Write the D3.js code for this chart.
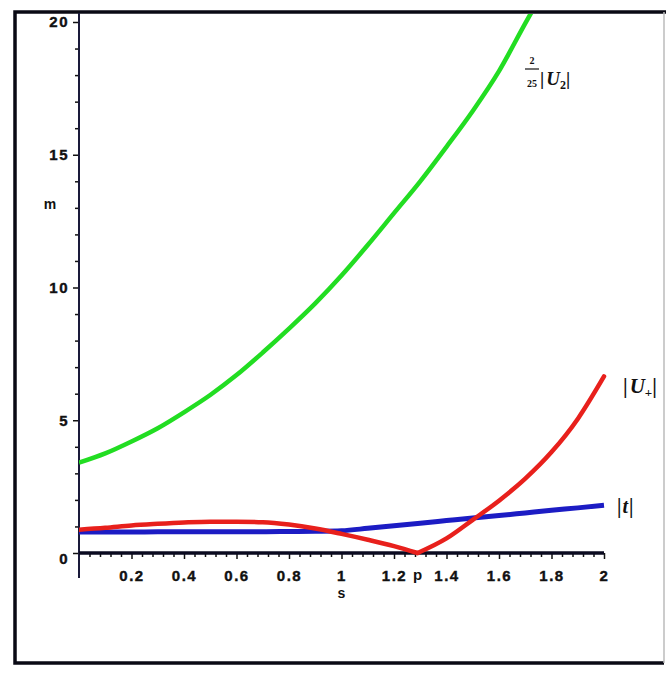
<!DOCTYPE html>
<html>
<head>
<meta charset="utf-8">
<script src="https://cdn.jsdelivr.net/npm/d3@7"></script>
<style>
  body { margin: 0; background: #fff; }
  .tick text { font-family: "Liberation Sans", Arial, sans-serif; font-weight: bold; }
  .lbl { font-family: "Liberation Serif", "Times New Roman", serif; font-weight: bold; fill: #111; }
</style>
</head>
<body>
<svg width="666" height="673"></svg>
<script>
// values, s = 0 .. 2
var sGrid = [0, 0.1, 0.2, 0.3, 0.4, 0.5, 0.6, 0.7, 0.8, 0.9, 1.0,
             1.1, 1.2, 1.3, 1.4, 1.5, 1.6, 1.7, 1.8, 1.9, 2.0];
var greenS = [0, 0.1, 0.2, 0.3, 0.4, 0.5, 0.6, 0.7, 0.8, 0.9, 1.0,
              1.1, 1.2, 1.3, 1.4, 1.5, 1.6, 1.7, 1.76];
var greenV = [3.4, 3.75, 4.2, 4.7, 5.3, 5.95, 6.7, 7.55, 8.45, 9.4, 10.45,
              11.6, 12.8, 14.0, 15.3, 16.65, 18.15, 19.95, 21.0];
// |U+| in two pieces, meeting at the zero near p
var redLeftS = [0, 0.1, 0.2, 0.3, 0.4, 0.5, 0.6, 0.7, 0.8, 0.9, 1.0, 1.1, 1.2, 1.29];
var redLeftV = [0.88, 0.95, 1.04, 1.1, 1.15, 1.18, 1.18, 1.16, 1.07, 0.92, 0.72, 0.5, 0.26, 0.0];
var redRightS = [1.29, 1.4, 1.5, 1.6, 1.7, 1.8, 1.9, 2.0];
var redRightV = [0.0, 0.55, 1.25, 1.97, 2.8, 3.8, 5.05, 6.65];
var blueV = [0.79, 0.79, 0.79, 0.8, 0.8, 0.8, 0.8, 0.8, 0.81, 0.82, 0.84,
             0.93, 1.03, 1.12, 1.22, 1.32, 1.41, 1.51, 1.61, 1.7, 1.8];

var xTicks = [0.2, 0.4, 0.6, 0.8, 1, 1.2, 1.4, 1.6, 1.8, 2];
var yTicks = [0, 5, 10, 15, 20];
var pMark = 1.29;

var svg = d3.select("svg");

var x = d3.scaleLinear().domain([0, 2]).range([79, 604]);
var y = d3.scaleLinear().domain([0, 20]).range([553, 22]);

// outer frame
svg.append("path")
    .attr("d", "M666,12 H15 V663 H664")
    .attr("fill", "none")
    .attr("stroke", "#0a0a14")
    .attr("stroke-width", 3.5);
svg.append("line")
    .attr("x1", 664).attr("x2", 664).attr("y1", 12).attr("y2", 663)
    .attr("stroke", "#bbb").attr("stroke-width", 1.5);

svg.append("clipPath").attr("id", "clip")
  .append("rect").attr("x", 79).attr("y", 14).attr("width", 587).attr("height", 560);

// y axis
var yMinor = d3.range(1, 21).filter(d => d % 5 != 0);
svg.append("g")
    .attr("transform", "translate(79,0)")
    .call(d3.axisLeft(y).tickValues(yMinor).tickSize(4).tickFormat(""))
    .call(g => g.select(".domain").remove())
    .selectAll("line").attr("stroke", "#111").attr("stroke-width", 1.5);

var gy = svg.append("g")
    .attr("transform", "translate(79,0)")
    .call(d3.axisLeft(y).tickValues(yTicks).tickSize(6).tickPadding(4).tickFormat(d3.format("d")));
gy.select(".domain").remove();
gy.selectAll("line").attr("stroke", "#111").attr("stroke-width", 1.5);
gy.selectAll("text").attr("font-size", 15).attr("letter-spacing", 1.5)
    .attr("fill", "#111").attr("stroke", "#111").attr("stroke-width", 0.4);
gy.selectAll(".tick").filter(d => d == 0).select("text").attr("dy", "0.7em");

svg.append("line")
    .attr("x1", 79).attr("x2", 79).attr("y1", 13).attr("y2", 578)
    .attr("stroke", "#1a1a3a").attr("stroke-width", 2);

// x axis
var xMinor = d3.range(1, 51).map(d => d * 0.04).filter(d => Math.abs(d * 5 - Math.round(d * 5)) > 1e-6);
svg.append("g")
    .attr("transform", "translate(0,553)")
    .call(d3.axisBottom(x).tickValues(xMinor).tickSize(4).tickFormat(""))
    .call(g => g.select(".domain").remove())
    .selectAll("line").attr("stroke", "#111").attr("stroke-width", 1.5);

var gx = svg.append("g")
    .attr("transform", "translate(0,553)")
    .call(d3.axisBottom(x).tickValues(xTicks).tickSize(6).tickPadding(11)
        .tickFormat(d => Number.isInteger(d) ? d : d3.format(".1f")(d)));
gx.select(".domain").remove();
gx.selectAll("line").attr("stroke", "#111").attr("stroke-width", 1.5);
gx.selectAll("text").attr("font-size", 15).attr("letter-spacing", 1.5)
    .attr("fill", "#111").attr("stroke", "#111").attr("stroke-width", 0.4);

svg.append("line")
    .attr("x1", 79).attr("x2", 604).attr("y1", 553).attr("y2", 553)
    .attr("stroke", "#0a0a20").attr("stroke-width", 3.5);

svg.append("text")
    .attr("x", x(pMark)).attr("y", 580)
    .attr("text-anchor", "middle")
    .attr("font-family", "Liberation Sans, Arial, sans-serif")
    .attr("font-weight", "bold").attr("font-size", 15).attr("fill", "#111")
    .text("p");

svg.append("text")
    .attr("x", x(1)).attr("y", 598)
    .attr("text-anchor", "middle")
    .attr("font-family", "Liberation Sans, Arial, sans-serif")
    .attr("font-weight", "bold").attr("font-size", 14).attr("fill", "#111")
    .text("s");

svg.append("text")
    .attr("x", 50).attr("y", 209)
    .attr("text-anchor", "middle")
    .attr("font-family", "Liberation Sans, Arial, sans-serif")
    .attr("font-weight", "bold").attr("font-size", 14).attr("fill", "#111")
    .text("m");

// curves
var line = d3.line()
    .x(d => x(d[0]))
    .y(d => y(d[1]))
    .curve(d3.curveMonotoneX);

var plot = svg.append("g").attr("clip-path", "url(#clip)");

plot.append("path")
    .datum(sGrid.map((s, i) => [s, blueV[i]]))
    .attr("fill", "none")
    .attr("stroke", "#1c1cc4")
    .attr("stroke-width", 5)
    .attr("d", line);

var redPts = [redLeftS.map((s, i) => [s, redLeftV[i]]),
              redRightS.map((s, i) => [s, redRightV[i]])];
plot.selectAll(".red")
    .data(redPts)
    .join("path")
    .attr("class", "red")
    .attr("fill", "none")
    .attr("stroke", "#e8201c")
    .attr("stroke-width", 4.5)
    .attr("stroke-linejoin", "round")
    .attr("stroke-linecap", "round")
    .attr("d", line);

plot.append("path")
    .datum(greenS.map((s, i) => [s, greenV[i]]))
    .attr("fill", "none")
    .attr("stroke", "#22dd22")
    .attr("stroke-width", 4.5)
    .attr("d", line);

// curve labels
var lab = svg.append("g").attr("class", "lbl");

lab.append("text").attr("x", 532).attr("y", 64)
    .attr("text-anchor", "middle").attr("font-size", 10).text("2");
lab.append("line").attr("x1", 525).attr("x2", 539).attr("y1", 69).attr("y2", 69)
    .attr("stroke", "#111").attr("stroke-width", 1.2);
lab.append("text").attr("x", 532).attr("y", 87)
    .attr("text-anchor", "middle").attr("font-size", 10).text("25");

var t1 = lab.append("text").attr("x", 540).attr("y", 85).attr("font-size", 19);
t1.append("tspan").text("|");
t1.append("tspan").attr("font-style", "italic").attr("dx", 2).text("U");
t1.append("tspan").attr("font-size", 12).attr("dy", 4).text("2");
t1.append("tspan").attr("dy", -4).text("|");

var t2 = lab.append("text").attr("x", x(2) + 19).attr("y", y(6.67) + 17).attr("font-size", 21);
t2.append("tspan").text("|");
t2.append("tspan").attr("font-style", "italic").attr("dx", 2).text("U");
t2.append("tspan").attr("font-size", 13).attr("dy", 4).text("+");
t2.append("tspan").attr("dy", -4).text("|");

var t3 = lab.append("text").attr("x", x(2) + 13).attr("y", y(1.8) + 8).attr("font-size", 20);
t3.append("tspan").text("|");
t3.append("tspan").attr("font-style", "italic").attr("dx", 1).text("t");
t3.append("tspan").attr("dx", 1).text("|");
</script>
</body>
</html>
